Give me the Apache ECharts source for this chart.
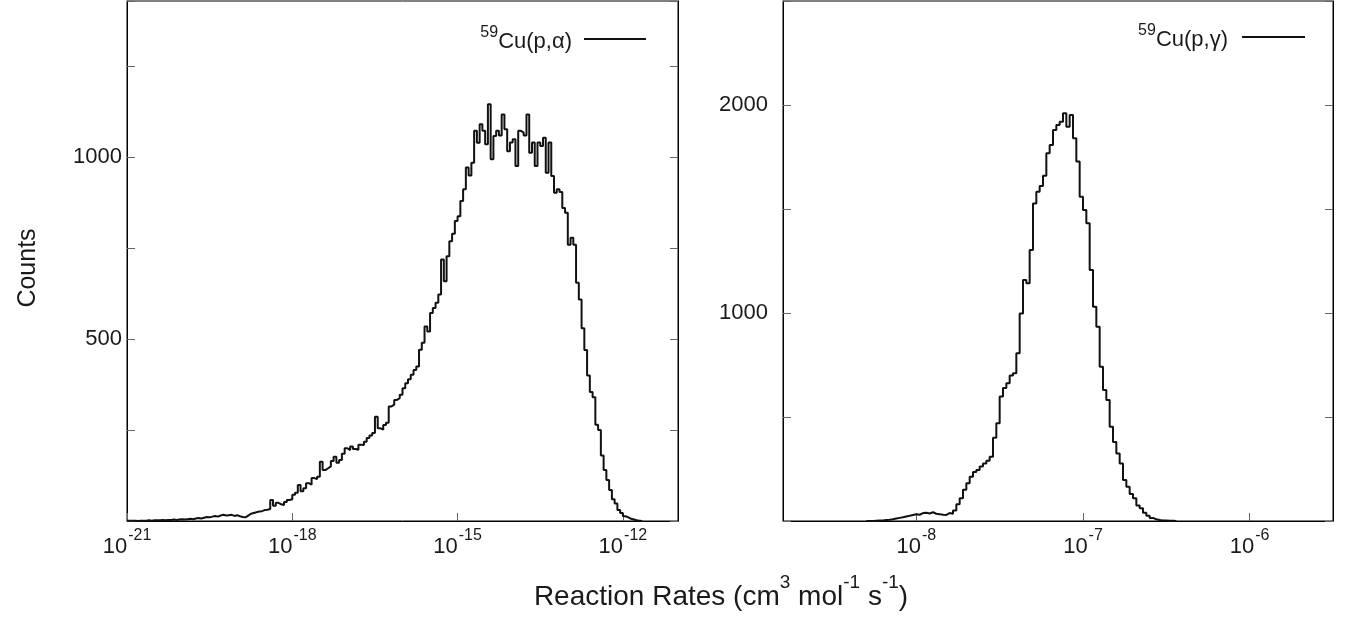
<!DOCTYPE html>
<html>
<head>
<meta charset="utf-8">
<script src="https://cdn.jsdelivr.net/npm/echarts@6/dist/echarts.min.js"></script>
<style>
html,body{margin:0;padding:0;background:#fff;}
#chart{width:1348px;height:621px;}
</style>
</head>
<body>
<div id="chart"></div>
<script>
// ---- Data (x in log10 of reaction rate, bins of constant width in log space) ----
var alphaName = '59Cu(p,α)';
var alphaBinStart = -21.0;   // log10 of first bin edge
var alphaBinWidth = 0.05;    // decades per bin
var alphaCounts = [
  1,1,1,0,1,1,1,2,1,2,
  2,2,3,2,3,3,4,3,4,5,
  4,5,6,5,7,8,7,9,11,10,
  12,14,12,15,17,15,16,17,14,16,
  13,11,10,15,20,22,24,26,27,30,
  31,33,58,42,50,46,44,52,58,60,
  72,78,99,82,90,104,100,118,115,122,
  163,140,145,150,165,177,160,168,185,200,
  195,205,198,196,210,209,218,228,235,242,
  287,255,251,264,270,315,320,333,338,347,
  365,379,390,402,415,425,471,490,535,521,
  572,586,600,623,719,659,728,769,790,825,
  838,880,912,972,950,985,1073,1040,1091,1073,
  1036,1146,995,1059,1073,1060,1118,1077,1017,1041,
  1050,976,1073,1068,1060,1118,1013,1041,976,1041,
  1031,1054,958,1041,949,903,912,905,861,848,
  760,779,760,655,609,530,470,400,355,340,
  265,250,180,140,113,85,60,48,30,22,
  13,10,6,4,2,1,0,0
];

var gammaName = '59Cu(p,γ)';
var gammaBinStart = -8.30;
var gammaBinWidth = 0.02;
var gammaCounts = [
  0,0,1,2,3,5,6,8,12,15,
  18,22,25,29,32,30,38,40,36,42,
  35,33,30,29,38,35,50,80,109,150,
  181,213,235,245,262,277,290,309,400,470,
  598,640,662,700,710,806,998,1159,1143,1303,
  1527,1583,1610,1660,1768,1808,1880,1904,1920,1960,
  1896,1952,1840,1728,1559,1495,1431,1207,1030,934,
  742,630,582,453,380,325,277,197,165,130,
  109,75,61,40,25,15,8,5,3,2,
  1,1,0,0
];

var alphaXTicks = [-21, -18, -15, -12];
var gammaXTicks = [-8, -7, -6];
var alphaYLabels = [500, 1000];
var gammaYLabels = [1000, 2000];

// ---- Build ----
function toPoints(start, width, counts) {
  var pts = [];
  for (var i = 0; i < counts.length; i++) {
    pts.push([+(start + i * width).toFixed(4), counts[i]]);
  }
  return pts;
}

var FONT = '"Liberation Sans", Arial, Helvetica, sans-serif';
var TXT = '#1a1a1a';

var expRich = {
  b: {fontSize: 22, fontFamily: FONT, color: TXT, lineHeight: 30, verticalAlign: 'bottom'},
  s: {fontSize: 16, fontFamily: FONT, color: TXT, lineHeight: 30, verticalAlign: 'top', padding: [0,0,0,1]}
};
function expLabel(v) {
  return '{b|10}{s|' + Math.round(v) + '}';
}

function xAxisCfg(grid, min, max, ticks) {
  return {
    type: 'value', gridIndex: grid, min: min, max: max,
    axisLine: {show: true, lineStyle: {color: '#000', width: 1}},
    axisTick: {show: true, inside: true, length: 8, customValues: ticks, lineStyle: {color: '#666', width: 1}},
    axisLabel: {show: true, customValues: ticks, margin: 7, formatter: expLabel, rich: expRich},
    splitLine: {show: false}
  };
}
function yAxisCfg(grid, max, interval, labels, pos, margin) {
  return {
    type: 'value', gridIndex: grid, min: 0, max: max, interval: interval, position: pos,
    axisLine: {show: true, lineStyle: {color: '#000', width: 1}},
    axisTick: {show: true, inside: true, length: 8, lineStyle: {color: '#666', width: 1}},
    axisLabel: {
      show: pos === 'left', margin: margin, fontSize: 22, fontFamily: FONT, color: TXT,
      formatter: function (v) { return labels.indexOf(v) >= 0 ? String(v) : ''; }
    },
    splitLine: {show: false}
  };
}

var legendRich = {
  s: {fontSize: 16, fontFamily: FONT, color: TXT, verticalAlign: 'top', lineHeight: 28},
  b: {fontSize: 22, fontFamily: FONT, color: TXT, verticalAlign: 'bottom', lineHeight: 28}
};
function legendFmt(name) {
  return '{s|59}{b|' + name.slice(2) + '}';
}

var chart = echarts.init(document.getElementById('chart'), null, {renderer: 'canvas'});
chart.setOption({
  animation: false,
  backgroundColor: '#fff',
  grid: [
    {left: 127, top: 1, width: 551, height: 520, show: true, borderColor: '#000', borderWidth: 1, backgroundColor: 'transparent'},
    {left: 783, top: 1, width: 550, height: 520, show: true, borderColor: '#000', borderWidth: 1, backgroundColor: 'transparent'}
  ],
  xAxis: [
    xAxisCfg(0, -21, -11, alphaXTicks),
    xAxisCfg(1, -8.8, -5.5, gammaXTicks)
  ],
  yAxis: [
    yAxisCfg(0, 1430, 250, alphaYLabels, 'left', 5),
    yAxisCfg(0, 1430, 250, alphaYLabels, 'right', 5),
    yAxisCfg(1, 2500, 500, gammaYLabels, 'left', 15),
    yAxisCfg(1, 2500, 500, gammaYLabels, 'right', 15)
  ],
  legend: [
    {data: [alphaName], right: 702, top: 25, padding: 0, align: 'right', icon: 'rect', itemWidth: 62, itemHeight: 2,
     itemStyle: {color: '#111'}, formatter: legendFmt, textStyle: {rich: legendRich, padding: [0, 7, 0, 0]}, selectedMode: false},
    {data: [gammaName], right: 43, top: 23, padding: 0, align: 'right', icon: 'rect', itemWidth: 63, itemHeight: 2,
     itemStyle: {color: '#111'}, formatter: legendFmt, textStyle: {rich: legendRich, padding: [0, 9, 0, 0]}, selectedMode: false}
  ],
  series: [
    {name: alphaName, type: 'line', step: 'end', xAxisIndex: 0, yAxisIndex: 0, symbol: 'none',
     data: toPoints(alphaBinStart, alphaBinWidth, alphaCounts),
     lineStyle: {color: '#111', width: 2}, itemStyle: {color: '#111'}},
    {name: gammaName, type: 'line', step: 'end', xAxisIndex: 1, yAxisIndex: 2, symbol: 'none',
     data: toPoints(gammaBinStart, gammaBinWidth, gammaCounts),
     lineStyle: {color: '#111', width: 2}, itemStyle: {color: '#111'}}
  ],
  graphic: [
    {type: 'text', x: 28, y: 268, rotation: Math.PI / 2,
     style: {text: 'Counts', fontSize: 25, fontFamily: FONT, fill: TXT, align: 'center', verticalAlign: 'middle'}},
    {type: 'text', x: 721, y: 592,
     style: {
       text: '{b|Reaction Rates (cm}{s|3}{b| mol}{s|-1}{b| s}{s|-1}{b|)}',
       align: 'center', verticalAlign: 'middle',
       rich: {
         b: {fontSize: 28, fontFamily: FONT, fill: TXT, lineHeight: 38, verticalAlign: 'bottom'},
         s: {fontSize: 19, fontFamily: FONT, fill: TXT, lineHeight: 38, verticalAlign: 'top'}
       }
     }}
  ]
});
</script>
</body>
</html>
